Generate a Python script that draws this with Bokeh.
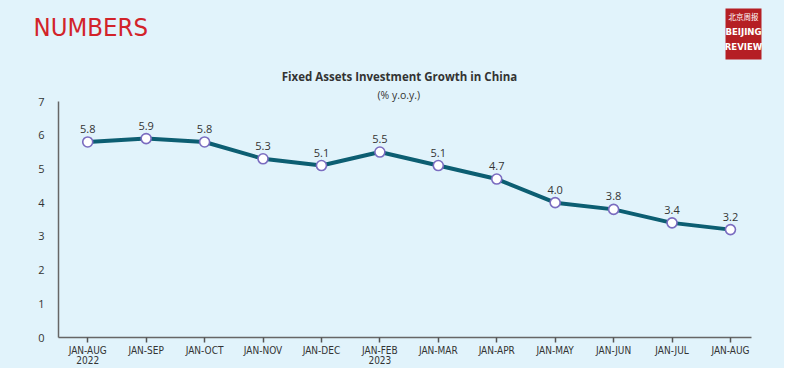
from bokeh.plotting import figure
from bokeh.layouts import column
from bokeh.models import Range1d, FixedTicker, ColumnDataSource, Title
from bokeh.core.properties import value
from bokeh.embed import file_html
from bokeh.resources import INLINE

periods = ["JAN-AUG\n2022", "JAN-SEP", "JAN-OCT", "JAN-NOV", "JAN-DEC", "JAN-FEB\n2023",
           "JAN-MAR", "JAN-APR", "JAN-MAY", "JAN-JUN", "JAN-JUL", "JAN-AUG"]
growth = [5.8, 5.9, 5.8, 5.3, 5.1, 5.5, 5.1, 4.7, 4.0, 3.8, 3.4, 3.2]
y_ticks = [0, 1, 2, 3, 4, 5, 6, 7]

BG = "#e1f3fb"
LINE = "#0c5e72"
NARROW = "'DejaVu Sans Condensed', Roboto"
TXT = "#333333"

W = 784
HH = 85          # header height
MH = 368 - HH    # main chart height

# ---------------- header: brand, logo, title ----------------
hdr = figure(width=W, height=HH, output_backend="svg", toolbar_location=None,
             x_range=Range1d(0, W), y_range=Range1d(HH, 0),
             x_axis_location=None, y_axis_location=None,
             min_border=0, min_border_left=0, min_border_right=0,
             min_border_top=0, min_border_bottom=0)
hdr.frame_align = False
hdr.background_fill_color = BG
hdr.border_fill_color = BG
hdr.outline_line_color = None
hdr.grid.visible = False

hdr.text(x=[33], y=[26], text=["NUMBERS"], text_align="left", text_baseline="middle",
         text_font=value(NARROW), text_font_size="25.5px", text_color="#d2232a")
hdr.quad(left=[725], right=[761], top=[8], bottom=[59], fill_color="#b51f24", line_color=None)
hdr.text(x=[743], y=[16], text=["北京周报"], text_align="center", text_baseline="middle",
         text_font=value("Noto Sans CJK SC"), text_font_size="7.5px", text_color="white")
hdr.text(x=[743], y=[31], text=["BEIJING"], text_align="center", text_baseline="middle",
         text_font=value(NARROW), text_font_style="bold", text_font_size="9.5px", text_color="white")
hdr.text(x=[743], y=[46], text=["REVIEW"], text_align="center", text_baseline="middle",
         text_font=value(NARROW), text_font_style="bold", text_font_size="9.5px", text_color="white")
hdr.text(x=[399], y=[76], text=["Fixed Assets Investment Growth in China"], text_align="center",
         text_baseline="middle", text_font=value("Open Sans"), text_font_style="bold",
         text_font_size="11.5px", text_color=TXT)

# ---------------- main chart ----------------
idx = list(range(len(periods)))
src = ColumnDataSource(dict(x=idx, y=growth, lab=[f"{v:.1f}" for v in growth]))

p = figure(width=W, height=MH, output_backend="svg", toolbar_location=None,
           x_range=Range1d(-0.5, 11.36), y_range=Range1d(0, 7),
           min_border_left=58, min_border_right=33, min_border_top=13, min_border_bottom=25)
p.frame_align = False
p.background_fill_color = BG
p.border_fill_color = BG
p.outline_line_color = None
p.grid.visible = False

p.add_layout(Title(text="(% y.o.y.)", align="left", offset=319, standoff=0,
                   text_font="Open Sans", text_font_style="normal", text_font_size="10.5px",
                   text_color=TXT), "above")

p.line("x", "y", source=src, line_color=LINE, line_width=4)
p.scatter("x", "y", source=src, size=10, fill_color="white", line_color="#7a6cc0", line_width=1.6)
p.text("x", "y", text="lab", source=src, text_align="center", text_baseline="middle",
       y_offset=-13, text_font_size="11px", text_color=TXT, text_font=value("Open Sans"))

xa = p.xaxis[0]
xa.ticker = FixedTicker(ticks=idx)
xa.major_label_overrides = {i: s for i, s in zip(idx, periods)}
xa.major_tick_out = 5
xa.major_tick_in = 0
xa.minor_tick_out = 0
xa.minor_tick_in = 0
xa.major_label_standoff = 2
xa.axis_line_color = "#666666"
xa.axis_line_width = 1.5
xa.major_tick_line_color = "#555555"
xa.major_tick_line_width = 1.5
xa.major_label_text_font = NARROW
xa.major_label_text_font_size = "10px"
xa.major_label_text_color = TXT
xa.major_label_text_line_height = 0.95

ya = p.yaxis[0]
ya.ticker = FixedTicker(ticks=y_ticks)
ya.major_tick_out = 0
ya.major_tick_in = 0
ya.minor_tick_out = 0
ya.minor_tick_in = 0
ya.major_label_standoff = 14
ya.axis_line_color = "#666666"
ya.axis_line_width = 1.5
ya.major_label_text_font = "Open Sans"
ya.major_label_text_font_size = "11px"
ya.major_label_text_color = TXT

layout = column(hdr, p, spacing=0)
layout.styles = {"background-color": BG}
open("out.html", "w").write(file_html(layout, INLINE))
